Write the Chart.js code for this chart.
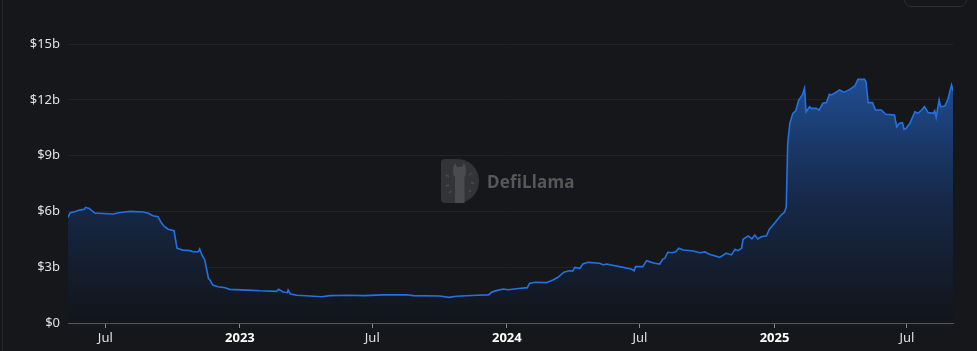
<!DOCTYPE html>
<html>
<head>
<meta charset="utf-8">
<script src="https://cdn.jsdelivr.net/npm/chart.js@4.4.1/dist/chart.umd.min.js"></script>
<style>
    html, body { margin: 0; padding: 0; background: #16171a; }
    #wrap { position: relative; width: 977px; height: 351px; overflow: hidden; }
    #leftEdge { position: absolute; left: 2px; top: 0; width: 1px; height: 351px; background: #25272b; }
    #topBtn { position: absolute; left: 904px; top: -10px; width: 61px; height: 15px; border: 1px solid #2d2f33; border-radius: 7px; }
    #watermark { position: absolute; left: 441px; top: 159px; display: flex; align-items: center; pointer-events: none; }
    #watermark span { margin-left: 8px; font: 700 17px "Noto Sans", sans-serif; color: #575757; letter-spacing: 0.2px; }
</style>
</head>
<body>
<div id="wrap">
    <canvas id="tvlChart" width="977" height="351"></canvas>
    <div id="leftEdge"></div>
    <div id="topBtn"></div>
    <div id="watermark">
        <svg width="38" height="44" viewBox="0 0 38 44">
            <path d="M4 0 H17 A21 22 0 0 1 17 44 H4 A4 4 0 0 1 0 40 V4 A4 4 0 0 1 4 0 Z" fill="#333437"/>
            <path d="M12 9 L14 4 L16 8 H21 L23 4 L25 9 L24.5 17 H23.5 V44 H14 V17 H12.5 Z" fill="#4a4b4d"/>
            <path d="M5 16 l3 1.5 M5 27 l3 -1 M8 34 l2 -2 M31 14 l-3 2 M33 24 h-3 M30 33 l-2 -2" stroke="#4a4b4d" stroke-width="1.5"/>
        </svg>
        <span>DefiLlama</span>
    </div>
</div>
<script>
// TVL in billions USD
const dates = [
    '2022-05-11','2022-05-14','2022-05-20','2022-05-27','2022-06-02','2022-06-04','2022-06-09','2022-06-17',
    '2022-06-21','2022-07-12','2022-07-19','2022-07-30','2022-08-04','2022-08-22','2022-08-29','2022-09-04',
    '2022-09-11','2022-09-16','2022-09-20','2022-09-25','2022-10-03','2022-10-07','2022-10-15','2022-10-25',
    '2022-10-29','2022-11-05','2022-11-07','2022-11-10','2022-11-14','2022-11-19','2022-11-21','2022-11-25',
    '2022-12-02','2022-12-12','2022-12-18','2023-01-12','2023-01-28','2023-02-20','2023-02-23','2023-03-01',
    '2023-03-07','2023-03-08','2023-03-11','2023-03-20','2023-04-07','2023-04-23','2023-05-04','2023-05-31',
    '2023-06-19','2023-07-16','2023-08-17','2023-08-26','2023-10-01','2023-10-14','2023-10-24','2023-11-21',
    '2023-12-07','2023-12-11','2023-12-18','2023-12-27','2024-01-03','2024-01-14','2024-01-29','2024-02-01',
    '2024-02-08','2024-02-24','2024-03-04','2024-03-11','2024-03-19','2024-03-26','2024-03-31','2024-04-03',
    '2024-04-10','2024-04-14','2024-04-21','2024-05-07','2024-05-12','2024-05-16','2024-06-03','2024-06-19',
    '2024-06-23','2024-06-25','2024-07-05','2024-07-10','2024-07-14','2024-07-21','2024-07-28','2024-08-01',
    '2024-08-04','2024-08-08','2024-08-14','2024-08-19','2024-08-23','2024-08-29','2024-09-12','2024-09-21',
    '2024-09-28','2024-10-04','2024-10-18','2024-10-27','2024-11-03','2024-11-08','2024-11-12','2024-11-17',
    '2024-11-19','2024-11-26','2024-12-01','2024-12-05','2024-12-09','2024-12-14','2024-12-21','2024-12-25',
    '2025-01-01','2025-01-10','2025-01-15','2025-01-17','2025-01-19','2025-01-22','2025-01-26','2025-01-30',
    '2025-02-03','2025-02-08','2025-02-11','2025-02-13','2025-02-18','2025-02-20','2025-02-27','2025-03-03',
    '2025-03-08','2025-03-13','2025-03-17','2025-03-20','2025-03-24','2025-03-31','2025-04-06','2025-04-14',
    '2025-04-21','2025-04-25','2025-05-04','2025-05-06','2025-05-09','2025-05-15','2025-05-19','2025-05-27',
    '2025-06-02','2025-06-14','2025-06-17','2025-06-21','2025-06-25','2025-06-27','2025-06-30','2025-07-05',
    '2025-07-12','2025-07-16','2025-07-21','2025-07-25','2025-07-30','2025-08-06','2025-08-08','2025-08-10',
    '2025-08-14','2025-08-16','2025-08-22','2025-08-26','2025-08-31','2025-09-02'
];

const tvl = [
    5.68, 5.93, 5.98, 6.07, 6.11, 6.22, 6.16, 5.90,
    5.90, 5.86, 5.93, 5.98, 6.00, 5.97, 5.90, 5.77,
    5.72, 5.36, 5.18, 5.04, 4.96, 4.02, 3.92, 3.89,
    3.83, 3.83, 3.98, 3.66, 3.39, 2.40, 2.31, 2.04,
    1.95, 1.90, 1.81, 1.77, 1.73, 1.70, 1.81, 1.67,
    1.63, 1.77, 1.56, 1.49, 1.45, 1.41, 1.47, 1.49,
    1.47, 1.51, 1.52, 1.47, 1.45, 1.38, 1.44, 1.49,
    1.51, 1.65, 1.74, 1.83, 1.79, 1.84, 1.90, 2.13,
    2.19, 2.17, 2.31, 2.46, 2.73, 2.81, 2.79, 2.99,
    2.94, 3.17, 3.26, 3.21, 3.12, 3.17, 3.03, 2.90,
    2.81, 3.03, 3.03, 3.35, 3.30, 3.21, 3.17, 3.42,
    3.48, 3.80, 3.78, 3.83, 4.02, 3.92, 3.87, 3.78,
    3.82, 3.69, 3.53, 3.75, 3.66, 3.96, 3.89, 4.02,
    4.50, 4.68, 4.52, 4.73, 4.52, 4.64, 4.69, 5.04,
    5.36, 5.80, 5.98, 6.25, 9.66, 10.74, 11.27, 11.41,
    11.99, 12.26, 12.62, 11.36, 11.63, 11.54, 11.54, 11.45,
    11.81, 11.85, 12.30, 12.26, 12.35, 12.53, 12.40, 12.56,
    12.76, 13.10, 13.10, 12.97, 11.85, 11.85, 11.45, 11.45,
    11.22, 11.18, 10.55, 10.74, 10.77, 10.41, 10.47, 10.74,
    11.36, 11.27, 11.45, 11.63, 11.31, 11.27, 11.41, 11.06,
    11.99, 11.63, 11.67, 12.03, 12.80, 12.49
];

const tickDates = ['2022-07-01', '2023-01-01', '2023-07-01', '2024-01-01', '2024-07-01', '2025-01-01', '2025-07-01'];
const tickLabels = ['Jul', '2023', 'Jul', '2024', 'Jul', '2025', 'Jul'];
const yTicks = [0, 3, 6, 9, 12, 15];

const toDay = (s) => Date.parse(s + 'T00:00:00Z') / 86400000;
const tickDays = tickDates.map(toDay);
const isYear = (v) => tickLabels[tickDays.indexOf(v)] !== 'Jul';

const points = dates.map((d, i) => ({ x: toDay(d), y: tvl[i] }));

function areaFill(context) {
    const chart = context.chart;
    const { chartArea, scales } = chart;
    if (!chartArea) return 'rgba(33,114,229,0.3)';
    const top = scales.y.getPixelForValue(Math.max(...tvl));
    const g = chart.ctx.createLinearGradient(0, top, 0, chartArea.bottom);
    g.addColorStop(0, '#1f4c90');
    g.addColorStop(0.5, '#162848');
    g.addColorStop(1, '#121519');
    return g;
}

new Chart(document.getElementById('tvlChart'), {
    type: 'line',
    data: {
        datasets: [{
            data: points,
            borderColor: '#2172e5',
            borderWidth: 1.6,
            backgroundColor: areaFill,
            fill: 'origin',
            pointRadius: 0,
            tension: 0
        }]
    },
    options: {
        responsive: false,
        animation: false,
        layout: { padding: { top: 44, right: 24, left: 0, bottom: 0 } },
        plugins: { legend: { display: false }, tooltip: { enabled: false } },
        scales: {
            x: {
                type: 'linear',
                min: toDay(dates[0]),
                max: toDay(dates[dates.length - 1]),
                afterBuildTicks: (scale) => { scale.ticks = tickDays.map(v => ({ value: v })); },
                afterFit: (scale) => { scale.height = 28; },
                grid: { drawOnChartArea: false, drawTicks: true, tickLength: 5, tickColor: '#8a8b8e' },
                border: { display: true, color: '#55575b', width: 1 },
                ticks: {
                    autoSkip: false,
                    maxRotation: 0,
                    padding: 2,
                    color: (ctx) => ctx.tick && isYear(ctx.tick.value) ? '#ffffff' : '#e0e0e0',
                    font: (ctx) => ({
                        family: '"Noto Sans", sans-serif',
                        size: 13,
                        weight: ctx.tick && isYear(ctx.tick.value) ? 'bold' : 'normal'
                    }),
                    callback: (v) => tickLabels[tickDays.indexOf(v)]
                }
            },
            y: {
                min: 0,
                max: 15,
                afterBuildTicks: (scale) => { scale.ticks = yTicks.map(v => ({ value: v })); },
                afterFit: (scale) => { scale.width = 68; },
                grid: { color: '#222327', drawTicks: false },
                border: { display: false },
                ticks: {
                    padding: 8,
                    color: '#e0e0e0',
                    font: { family: '"Noto Sans", sans-serif', size: 13 },
                    callback: (v) => v === 0 ? '$0' : '$' + v + 'b'
                }
            }
        }
    }
});
</script>
</body>
</html>
